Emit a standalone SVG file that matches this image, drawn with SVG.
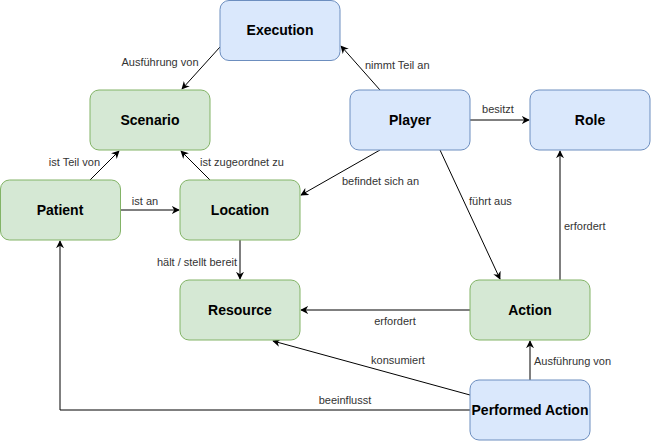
<svg xmlns="http://www.w3.org/2000/svg" width="651" height="441" viewBox="0 0 651 441">
<style>
.blue{fill:#dae8fc;stroke:#6c8ebf;stroke-width:1}
.green{fill:#d5e8d4;stroke:#82b366;stroke-width:1}
.nt{font-family:"Liberation Sans",Arial,sans-serif;font-size:14px;font-weight:bold;fill:#000;text-anchor:middle;dominant-baseline:central}
.e{fill:none;stroke:#000;stroke-width:1;marker-end:url(#arr)}
.lb{font-family:"Liberation Sans",Arial,sans-serif;font-size:11px;fill:#333;dominant-baseline:central}
</style>
<defs>
<marker id="arr" viewBox="0 0 10 10" refX="9" refY="5" markerWidth="8" markerHeight="8" markerUnits="userSpaceOnUse" orient="auto">
<path d="M0,0 L10,5 L0,10 L3,5 Z" fill="#000"/>
</marker>
</defs>
<rect width="651" height="441" fill="#fff"/>
<g id="connectors">
<path class="e" d="M220,47 L182,89"/>
<path class="e" d="M380,90 L341,46"/>
<path class="e" d="M470,120 L529,120"/>
<path class="e" d="M90,180 L119,151"/>
<path class="e" d="M210,180 L181,151"/>
<path class="e" d="M120,210 L179,210"/>
<path class="e" d="M380,150 L301,195"/>
<path class="e" d="M240,240 L240,279"/>
<path class="e" d="M440,150 L500,279"/>
<path class="e" d="M560,280 L560,151"/>
<path class="e" d="M470,310 L301,310"/>
<path class="e" d="M470,395 L273,341"/>
<path class="e" d="M530,380 L530,341"/>
<path class="e" d="M470,410 L60,410 L60,241"/>
<text class="lb" x="160" y="62" text-anchor="middle">Ausführung von</text>
<text class="lb" x="365" y="65">nimmt Teil an</text>
<text class="lb" x="498" y="109" text-anchor="middle">besitzt</text>
<text class="lb" x="100" y="162" text-anchor="end">ist Teil von</text>
<text class="lb" x="200" y="162">ist zugeordnet zu</text>
<text class="lb" x="145" y="201" text-anchor="middle">ist an</text>
<text class="lb" x="342" y="181">befindet sich an</text>
<text class="lb" x="237" y="262" text-anchor="end">hält / stellt bereit</text>
<text class="lb" x="469" y="201">führt aus</text>
<text class="lb" x="564" y="226">erfordert</text>
<text class="lb" x="395" y="321" text-anchor="middle">erfordert</text>
<text class="lb" x="398" y="360" text-anchor="middle">konsumiert</text>
<text class="lb" x="534" y="361">Ausführung von</text>
<text class="lb" x="345" y="400" text-anchor="middle">beeinflusst</text>
</g>
<g id="execution"><rect class="blue" x="220" y="0.5" width="120" height="60" rx="9"/><text class="nt" x="280" y="30">Execution</text></g>
<g id="scenario"><rect class="green" x="90" y="90" width="120" height="60" rx="9"/><text class="nt" x="150" y="120">Scenario</text></g>
<g id="player"><rect class="blue" x="350" y="90" width="120" height="60" rx="9"/><text class="nt" x="410" y="120">Player</text></g>
<g id="role"><rect class="blue" x="530" y="90" width="120" height="60" rx="9"/><text class="nt" x="590" y="120">Role</text></g>
<g id="patient"><rect class="green" x="0.5" y="180" width="120" height="60" rx="9"/><text class="nt" x="60" y="210">Patient</text></g>
<g id="location"><rect class="green" x="180" y="180" width="120" height="60" rx="9"/><text class="nt" x="240" y="210">Location</text></g>
<g id="resource"><rect class="green" x="180" y="280" width="120" height="60" rx="9"/><text class="nt" x="240" y="310">Resource</text></g>
<g id="action"><rect class="green" x="470" y="280" width="120" height="60" rx="9"/><text class="nt" x="530" y="310">Action</text></g>
<g id="performed-action"><rect class="blue" x="470" y="380" width="120" height="60" rx="9"/><text class="nt" x="530" y="410">Performed Action</text></g>
</svg>
